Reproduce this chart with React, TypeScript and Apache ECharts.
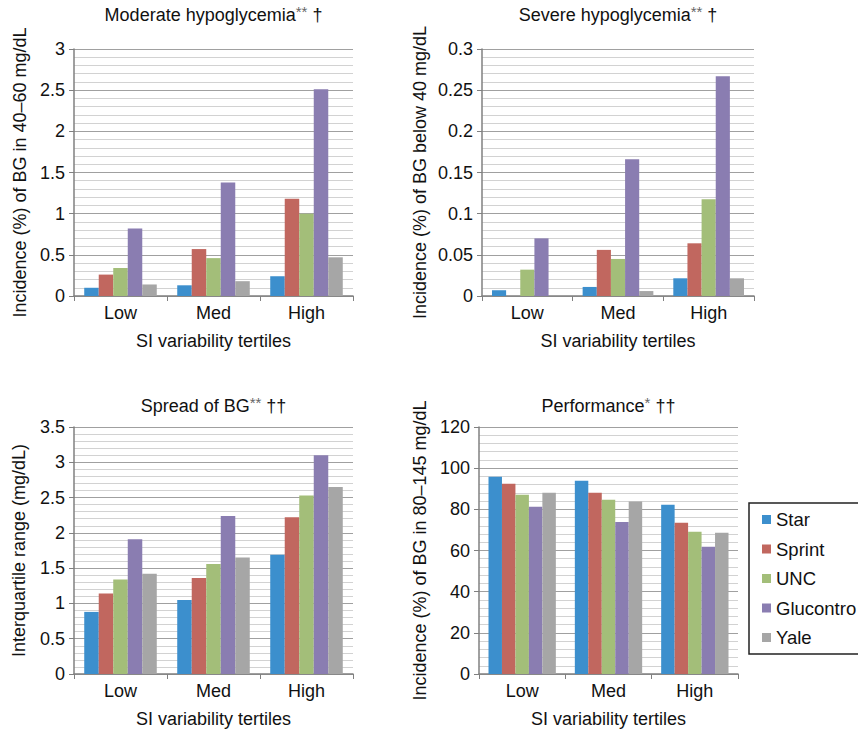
import React, { useEffect, useRef } from "react";
import * as echarts from "echarts";

const categories = ["Low", "Med", "High"];
const seriesNames = ["Star", "Sprint", "UNC", "Glucontro", "Yale"];
const seriesColors = ["#3c8fcd", "#c1675f", "#a3be79", "#8a7db1", "#a6a6a6"];

// values per series (Star, Sprint, UNC, Glucontro, Yale) over Low/Med/High
const moderateHypo = [
  [0.1, 0.13, 0.24],
  [0.26, 0.57, 1.18],
  [0.34, 0.46, 1.0],
  [0.82, 1.38, 2.51],
  [0.14, 0.18, 0.47],
];
const severeHypo = [
  [0.007, 0.011, 0.0215],
  [0, 0.056, 0.064],
  [0.032, 0.045, 0.1176],
  [0.07, 0.166, 0.267],
  [0, 0.006, 0.0215],
];
const spreadBG = [
  [0.88, 1.05, 1.69],
  [1.14, 1.36, 2.22],
  [1.34, 1.56, 2.53],
  [1.91, 2.24, 3.1],
  [1.42, 1.65, 2.65],
];
const performance = [
  [95.8, 93.9, 82.2],
  [92.4, 88.0, 73.5],
  [87.1, 84.6, 69.1],
  [81.2, 73.9, 61.8],
  [88.0, 83.8, 68.6],
];

const titles = [
  ["Moderate hypoglycemia", "**", " \u2020"],
  ["Severe hypoglycemia", "**", " \u2020"],
  ["Spread of BG", "**", " \u2020\u2020"],
  ["Performance", "*", " \u2020\u2020"],
];
const yNames = [
  "Incidence (%) of BG in 40\u201360 mg/dL",
  "Incidence (%) of BG below 40 mg/dL",
  "Interquartile range (mg/dL)",
  "Incidence (%) of BG in 80\u2013145 mg/dL",
];
const yMax = [3, 0.3, 3.5, 120];
const yInterval = [0.5, 0.05, 0.5, 20];
const xName = "SI variability tertiles";

const FONT = "'Liberation Sans', Arial, Helvetica, sans-serif";

export default function App() {
  const ref = useRef<HTMLDivElement>(null);
  useEffect(() => {
    if (!ref.current) return;
    const chart = echarts.init(ref.current, undefined, { renderer: "svg" });
    const grids = [
      { left: 74, top: 49, width: 279, height: 247 },
      { left: 482, top: 49, width: 272, height: 247 },
      { left: 74, top: 427, width: 279, height: 247 },
      { left: 479, top: 427, width: 259, height: 247 },
    ];
    const titleTops = [4, 4, 395, 395];
    const yNameGaps = [45, 53, 46, 50];
    const datasets = [moderateHypo, severeHypo, spreadBG, performance];
    const axisColor = "#808080";

    const option: any = {
      animation: false,
      backgroundColor: "#ffffff",
      textStyle: { fontFamily: FONT },
      title: grids.map((g, i) => ({
        text: `{t|${titles[i][0]}}{s|${titles[i][1]}}{t|${titles[i][2]}}`,
        left: g.left + g.width / 2,
        textAlign: "center",
        top: titleTops[i],
        padding: 0,
        textStyle: {
          fontWeight: "normal",
          rich: {
            t: { fontSize: 18, fontWeight: "normal", color: "#111", fontFamily: FONT, lineHeight: 22 },
            s: { fontSize: 15, fontWeight: "normal", color: "#666", fontFamily: FONT, lineHeight: 15, verticalAlign: "top" },
          },
        },
      })),
      grid: grids.map((g) => ({ ...g, containLabel: false })),
      xAxis: grids.map((g, i) => ({
        type: "category",
        gridIndex: i,
        data: categories,
        name: xName,
        nameLocation: "middle",
        nameGap: 36,
        nameTextStyle: { fontSize: 18, color: "#111", fontFamily: FONT },
        axisLine: { show: true, lineStyle: { color: axisColor, width: 1.5 } },
        axisTick: { show: true, length: 5, lineStyle: { color: axisColor } },
        axisLabel: { fontSize: 18, color: "#111", margin: 8, fontFamily: FONT },
        splitLine: { show: false },
      })),
      yAxis: grids.map((g, i) => ({
        type: "value",
        gridIndex: i,
        min: 0,
        max: yMax[i],
        interval: yInterval[i],
        name: yNames[i],
        nameLocation: "middle",
        nameRotate: 90,
        nameGap: yNameGaps[i],
        nameTextStyle: { fontSize: 18, color: "#111", fontFamily: FONT },
        axisLine: { show: true, lineStyle: { color: axisColor, width: 1.5 } },
        axisTick: { show: true, length: 5, lineStyle: { color: axisColor } },
        axisLabel: { fontSize: 18, color: "#111", margin: 9, fontFamily: FONT },
        splitLine: { show: true, lineStyle: { color: "#a0a0a0", width: 1 } },
        minorTick: { show: false, splitNumber: 5 },
        minorSplitLine: { show: true, lineStyle: { color: "#d2d2d2", width: 1 } },
      })),
      legend: {
        orient: "vertical",
        left: 762,
        top: 510,
        padding: 0,
        icon: "rect",
        itemWidth: 9,
        itemHeight: 9,
        itemGap: 10.5,
        data: seriesNames,
        textStyle: { fontSize: 18.5, color: "#111", fontFamily: FONT, lineHeight: 18, padding: [0, 0, 0, 0] },
      },
      graphic: [
        {
          type: "rect",
          z: -1,
          silent: true,
          shape: { x: 749, y: 503, width: 130, height: 151 },
          style: { fill: "#ffffff", stroke: "#222", lineWidth: 1.5 },
        },
      ],
      series: [] as any[],
    };

    datasets.forEach((ds, gi) => {
      ds.forEach((vals, si) => {
        option.series.push({
          type: "bar",
          name: seriesNames[si],
          xAxisIndex: gi,
          yAxisIndex: gi,
          data: vals,
          barGap: "0%",
          barCategoryGap: "22%",
          itemStyle: { color: seriesColors[si] },
        });
      });
    });

    chart.setOption(option);
    return () => chart.dispose();
  }, []);

  return (
    <div
      ref={ref}
      style={{ position: "fixed", left: 0, top: 0, width: 858, height: 730, background: "#fff" }}
    />
  );
}
